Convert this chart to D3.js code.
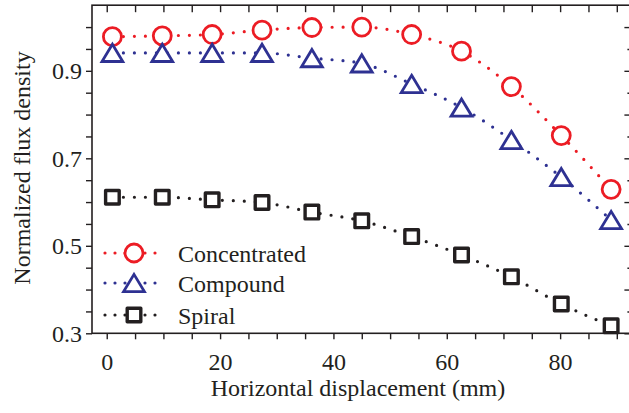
<!DOCTYPE html>
<html>
<head>
<meta charset="utf-8">
<script src="https://cdn.jsdelivr.net/npm/d3@7"></script>
<style>
  body { margin: 0; background: #fff; }
</style>
</head>
<body>
<div id="chart"></div>
<script>
// displacement in mm
var displacement = [1, 9.8, 18.6, 27.4, 36.2, 45.0, 53.8, 62.6, 71.4, 80.2, 89.0];
var concentrated = [0.978, 0.980, 0.983, 0.993, 0.999, 1.000, 0.983, 0.945, 0.864, 0.752, 0.629];
var compound     = [0.941, 0.941, 0.941, 0.941, 0.929, 0.917, 0.870, 0.816, 0.742, 0.657, 0.559];
var spiral       = [0.611, 0.611, 0.605, 0.599, 0.577, 0.557, 0.521, 0.479, 0.429, 0.367, 0.317];
var seriesNames  = ["Concentrated", "Compound", "Spiral"];
var xTicks = [0, 5, 10, 15, 20, 25, 30, 35, 40, 45, 50, 55, 60, 65, 70, 75, 80, 85, 90];
var xLabels = [0, 20, 40, 60, 80];
var yTicks = [0.3, 0.35, 0.4, 0.45, 0.5, 0.55, 0.6, 0.65, 0.7, 0.75, 0.8, 0.85, 0.9, 0.95, 1.0];
var yLabels = [0.3, 0.5, 0.7, 0.9];

(function () {
  var width = 629, height = 413;
  var ink = "#231f20";
  var serif = "'Liberation Serif'";

  var svg = d3.select("#chart").append("svg")
    .attr("width", width)
    .attr("height", height);

  var x = d3.scaleLinear().domain([-2.6, 92.4]).range([92, 630.4]);
  var y = d3.scaleLinear().domain([0.3, 1.05]).range([333.3, 5.2]);

  var series = [
    { name: seriesNames[0], values: concentrated, color: "#ec1c24", shape: "circle" },
    { name: seriesNames[1], values: compound, color: "#2e3192", shape: "triangle" },
    { name: seriesNames[2], values: spiral, color: ink, shape: "square" }
  ];

  function markerPath(shape) {
    if (shape === "circle") return d3.symbol().type(d3.symbolCircle).size(Math.PI * 9 * 9)();
    if (shape === "square") return "M-6.8,-6.8H6.8V6.8H-6.8Z";
    // triangle centred on its bounding box
    return "M0,-8.6L10.4,8.6L-10.4,8.6Z";
  }

  var fmt = function (d) { return xLabels.indexOf(d) >= 0 ? d : ""; };
  var yfmt = function (d) { return yLabels.some(function (v) { return Math.abs(v - d) < 1e-9; }) ? d3.format(".1f")(d) : ""; };

  // bottom axis (outward ticks)
  var gx = svg.append("g")
    .attr("transform", "translate(0," + y.range()[0] + ")")
    .call(d3.axisBottom(x).tickValues(xTicks).tickSize(6).tickFormat(fmt));

  // top axis (inward ticks)
  svg.append("g")
    .attr("transform", "translate(0," + y.range()[1] + ")")
    .call(d3.axisTop(x).tickValues(xTicks).tickSize(-7).tickFormat(""));

  // left axis (outward ticks)
  var gy = svg.append("g")
    .attr("transform", "translate(" + x.range()[0] + ",0)")
    .call(d3.axisLeft(y).tickValues(yTicks).tickSize(6).tickFormat(yfmt));

  // right axis (inward ticks, long at tenths)
  var gr = svg.append("g")
    .attr("transform", "translate(" + x.range()[1] + ",0)")
    .call(d3.axisRight(y).tickValues(yTicks).tickSize(-5).tickFormat(""));
  gr.selectAll(".tick line").attr("x2", function (d) {
    return Math.abs(Math.round(d * 10) - d * 10) < 1e-9 ? -6 : -3;
  });

  gx.selectAll("text").attr("y", 37).attr("dy", 0);
  gy.selectAll("text").attr("x", -10).attr("dy", "0.34em");
  svg.selectAll(".tick text")
    .attr("font-family", serif).attr("font-size", 24).attr("fill", ink);

  svg.selectAll(".domain").remove();
  svg.selectAll(".tick line").attr("stroke", ink).attr("stroke-width", 1.4);

  svg.append("rect")
    .attr("x", x.range()[0]).attr("y", y.range()[1])
    .attr("width", x.range()[1] - x.range()[0])
    .attr("height", y.range()[0] - y.range()[1])
    .attr("fill", "none").attr("stroke", ink).attr("stroke-width", 1.6);

  var line = d3.line()
    .x(function (d, i) { return x(displacement[i]); })
    .y(function (d) { return y(d); })
    .curve(d3.curveMonotoneX);

  var groups = svg.selectAll(".series")
    .data(series)
    .enter().append("g")
    .attr("class", "series");

  groups.append("path")
    .attr("d", function (s) { return line(s.values); })
    .attr("fill", "none")
    .attr("stroke", function (s) { return s.color; })
    .attr("stroke-width", 3.2)
    .attr("stroke-linecap", "round")
    .attr("stroke-dasharray", "0 11");

  groups.each(function (s) {
    d3.select(this).selectAll(".mark")
      .data(s.values)
      .enter().append("path")
      .attr("class", "mark")
      .attr("transform", function (d, i) { return "translate(" + x(displacement[i]) + "," + y(d) + ")"; })
      .attr("d", markerPath(s.shape))
      .attr("fill", "#fff")
      .attr("stroke", s.color)
      .attr("stroke-width", s.shape === "square" ? 3.4 : 2.8)
      .attr("stroke-linejoin", s.shape === "square" ? "round" : "miter");
  });

  // legend
  var legend = svg.append("g").attr("transform", "translate(103,253)");
  var rows = legend.selectAll(".row")
    .data(series)
    .enter().append("g")
    .attr("class", "row")
    .attr("transform", function (s, i) { return "translate(0," + [0, 30, 62][i] + ")"; });

  rows.append("line")
    .attr("x1", 2).attr("x2", 59).attr("y1", 0).attr("y2", 0)
    .attr("stroke", function (s) { return s.color; })
    .attr("stroke-width", 3.2)
    .attr("stroke-linecap", "round")
    .attr("stroke-dasharray", "0 10");

  rows.append("path")
    .attr("transform", "translate(31,0)")
    .attr("d", function (s) { return markerPath(s.shape); })
    .attr("fill", "#fff")
    .attr("stroke", function (s) { return s.color; })
    .attr("stroke-width", function (s) { return s.shape === "square" ? 3.4 : 2.8; })
    .attr("stroke-linejoin", function (s) { return s.shape === "square" ? "round" : "miter"; });

  rows.append("text")
    .attr("x", 75).attr("y", 9)
    .attr("font-family", serif)
    .attr("font-size", 24)
    .attr("fill", ink)
    .text(function (s) { return s.name; });

  // axis titles
  svg.append("text")
    .attr("x", 358).attr("y", 396)
    .attr("text-anchor", "middle")
    .attr("font-family", serif)
    .attr("font-size", 24)
    .attr("fill", ink)
    .text("Horizontal displacement (mm)");

  svg.append("text")
    .attr("transform", "translate(30,168) rotate(-90)")
    .attr("text-anchor", "middle")
    .attr("font-family", serif)
    .attr("font-size", 24)
    .attr("fill", ink)
    .text("Normalized flux density");
})();
</script>
</body>
</html>
